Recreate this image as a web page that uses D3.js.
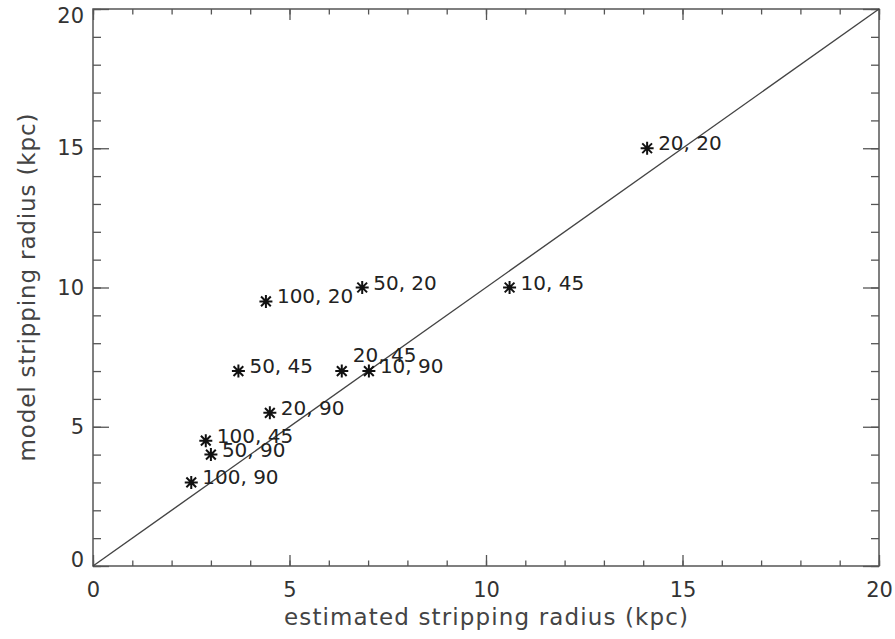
<html>

<script src="https://d3js.org/d3.v7.min.js"></script>

<style>
    body { margin: 0; background: white; }
    svg text { font-family: "DejaVu Sans", sans-serif; }
</style>

<svg width=895 height=639></svg>

<script>

    // run labels ("mass, angle") and the two radii (kpc)
    let runLabels = ['20, 20', '10, 45', '50, 20', '100, 20', '50, 45', '20, 45', '10, 90', '20, 90', '100, 45', '50, 90', '100, 90'];
    let estimated = [14.1, 10.6, 6.85, 4.4, 3.7, 6.33, 7.02, 4.5, 2.87, 3.0, 2.5];
    let model     = [15, 10, 10, 9.5, 7, 7, 7, 5.5, 4.5, 4, 3];
    let majorTicks = [0, 5, 10, 15, 20];
    let minorTicks = d3.range(0, 21);

    let svg = d3.select('svg'),
        margin = { top: 9, right: 16, bottom: 73, left: 93 };
        width = +svg.attr('width') - margin.left - margin.right;
        height = +svg.attr('height') - margin.top - margin.bottom;
        g = svg.append('g')
            .attr('transform', 'translate(' + margin.left + ',' + margin.top + ')');

    let axisColor = '#555';

    let x = d3.scaleLinear().domain([0, 20]).range([0, width]);
    let y = d3.scaleLinear().domain([0, 20]).range([height, 0]);

    // ticks on all four sides, pointing in
    function styleAxis(sel) {
        sel.select('.domain').remove();
        sel.selectAll('line').attr('stroke', axisColor).attr('stroke-width', 1.3);
        sel.selectAll('text').attr('fill', '#333').attr('font-size', 21)
            .attr('font-family', '"DejaVu Sans", sans-serif');
    }

    g.append('g').attr('transform', 'translate(0,' + height + ')')
        .call(d3.axisBottom(x).tickValues(minorTicks).tickSize(-5.5).tickFormat(''))
        .call(styleAxis);
    g.append('g').attr('transform', 'translate(0,' + height + ')')
        .call(d3.axisBottom(x).tickValues(majorTicks).tickSize(-11).tickPadding(16).tickFormat(d3.format('d')))
        .call(styleAxis);
    g.append('g')
        .call(d3.axisTop(x).tickValues(minorTicks).tickSize(-5.5).tickFormat(''))
        .call(styleAxis);
    g.append('g')
        .call(d3.axisTop(x).tickValues(majorTicks).tickSize(-11).tickFormat(''))
        .call(styleAxis);

    g.append('g')
        .call(d3.axisLeft(y).tickValues(minorTicks).tickSize(-8).tickFormat(''))
        .call(styleAxis);
    let yLeft = g.append('g')
        .call(d3.axisLeft(y).tickValues(majorTicks).tickSize(-16).tickPadding(9).tickFormat(d3.format('d')))
        .call(styleAxis);
    // end labels sit a little inside the frame
    yLeft.selectAll('.tick text')
        .attr('y', d => d === 20 ? 7 : (d === 0 ? -6 : 0));
    g.append('g').attr('transform', 'translate(' + width + ',0)')
        .call(d3.axisRight(y).tickValues(minorTicks).tickSize(-8).tickFormat(''))
        .call(styleAxis);
    g.append('g').attr('transform', 'translate(' + width + ',0)')
        .call(d3.axisRight(y).tickValues(majorTicks).tickSize(-16).tickFormat(''))
        .call(styleAxis);

    // frame
    g.append('rect')
        .attr('width', width).attr('height', height)
        .attr('fill', 'none').attr('stroke', axisColor).attr('stroke-width', 1.5);

    // one-to-one line
    g.append('line')
        .attr('x1', x(0)).attr('y1', y(0))
        .attr('x2', x(20)).attr('y2', y(20))
        .attr('stroke', '#444').attr('stroke-width', 1.4);

    let pts = runLabels.map((l, i) => ({ label: l, ex: estimated[i], mo: model[i] }));

    // asterisk marker
    let r = 6.5;
    let star = 'M0,' + (-r) + 'V' + r +
        'M' + (-r) + ',0H' + r +
        'M' + (-r * 0.75) + ',' + (-r * 0.75) + 'L' + (r * 0.75) + ',' + (r * 0.75) +
        'M' + (-r * 0.75) + ',' + (r * 0.75) + 'L' + (r * 0.75) + ',' + (-r * 0.75);

    g.selectAll('.pt')
        .data(pts)
      .enter()
        .append('path')
        .classed('pt', true)
        .attr('transform', d => 'translate(' + x(d.ex) + ',' + y(d.mo) + ')')
        .attr('d', star)
        .attr('stroke', '#111')
        .attr('stroke-width', 2);

    g.selectAll('.lbl')
        .data(pts)
      .enter()
        .append('text')
        .classed('lbl', true)
        .attr('x', d => x(d.ex) + 11)
        .attr('y', d => y(d.mo) + (d.label === '20, 45' ? -9 : 2))
        .attr('font-size', 20)
        .attr('fill', '#222')
        .text(d => d.label);

    // axis titles
    svg.append('text')
        .attr('x', margin.left + width / 2)
        .attr('y', 625)
        .attr('text-anchor', 'middle')
        .attr('font-size', 23)
        .attr('textLength', 404)
        .attr('lengthAdjust', 'spacing')
        .attr('fill', '#444')
        .text('estimated stripping radius (kpc)');

    svg.append('text')
        .attr('transform', 'translate(35,' + (margin.top + height / 2) + ') rotate(-90)')
        .attr('text-anchor', 'middle')
        .attr('font-size', 23)
        .attr('textLength', 348)
        .attr('lengthAdjust', 'spacing')
        .attr('fill', '#444')
        .text('model stripping radius (kpc)');

</script>
</html>
